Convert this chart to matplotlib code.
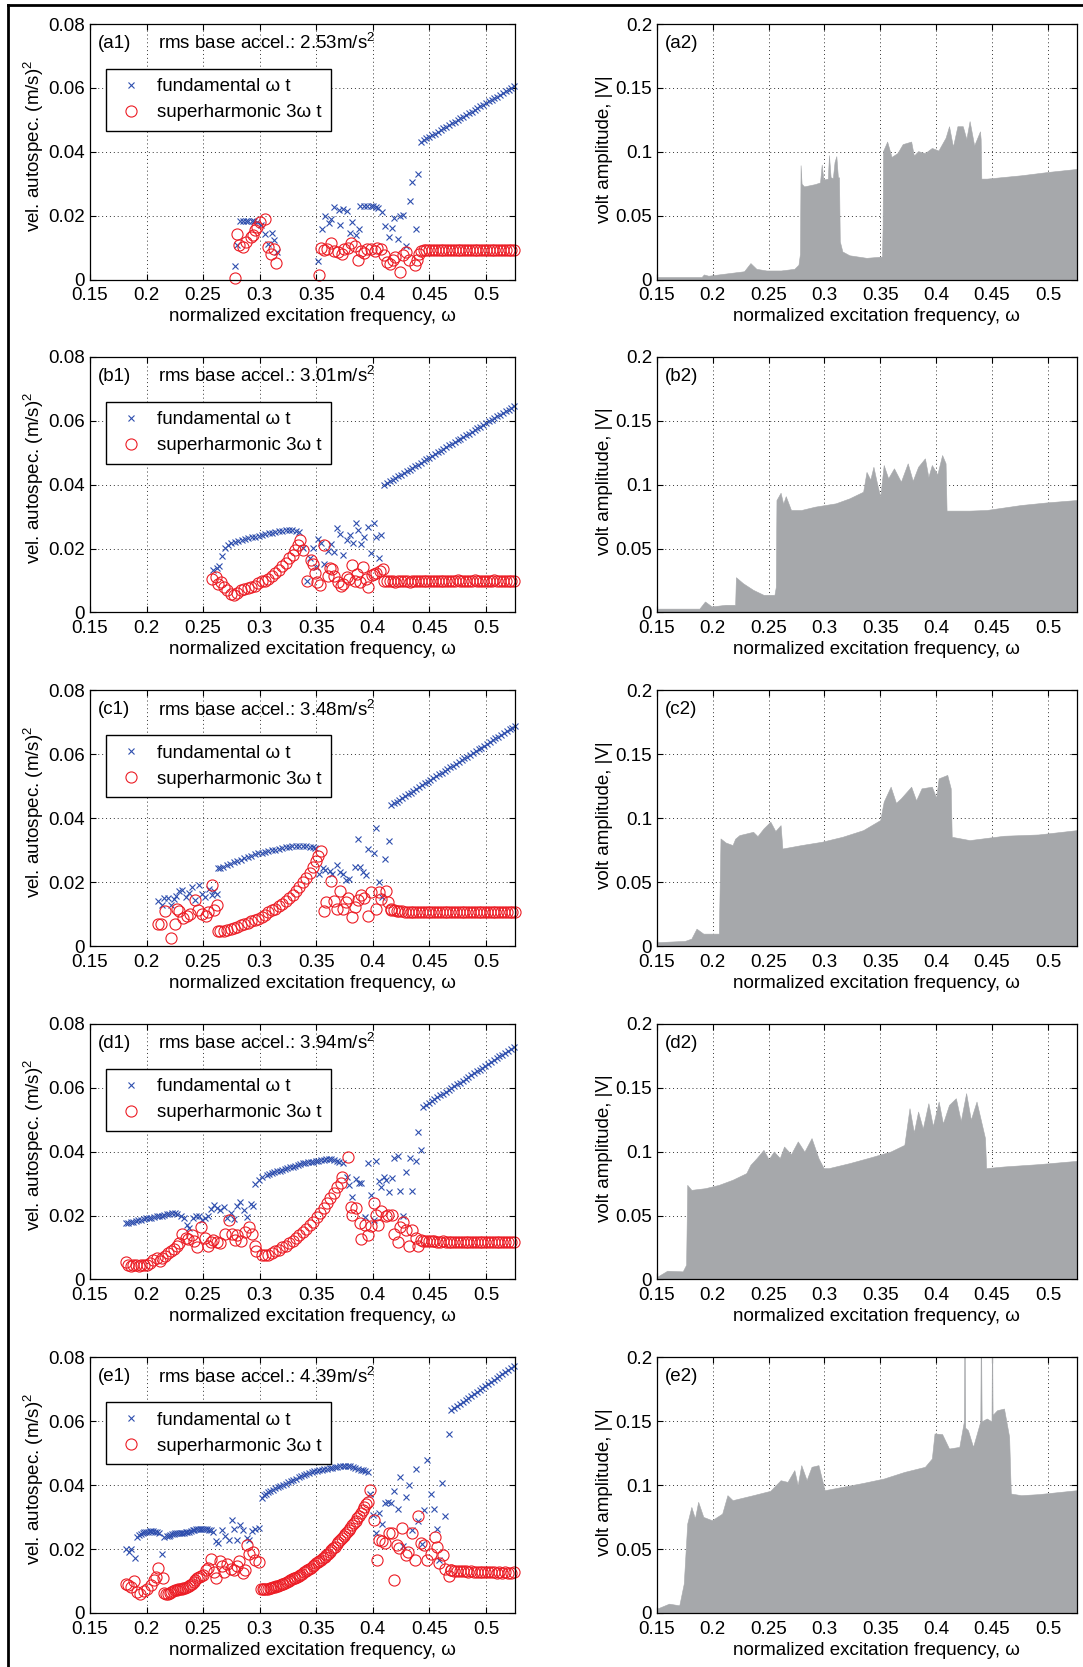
import matplotlib
matplotlib.use("Agg")
import matplotlib.pyplot as plt
from matplotlib.lines import Line2D
from matplotlib.ticker import FuncFormatter

plt.rcParams['font.family'] = ['Liberation Sans', 'DejaVu Sans']
plt.rcParams['mathtext.fontset'] = 'custom'
plt.rcParams['mathtext.rm'] = 'Liberation Sans'
plt.rcParams['mathtext.it'] = 'Liberation Sans:italic'

# --- texts ---
tags_left = ["(a1)", "(b1)", "(c1)", "(d1)", "(e1)"]
tags_right = ["(a2)", "(b2)", "(c2)", "(d2)", "(e2)"]
rms_accel = ["2.53", "3.01", "3.48", "3.94", "4.39"]

freq_ticks = [0.15, 0.2, 0.25, 0.3, 0.35, 0.4, 0.45, 0.5]
vel_ticks = [0, 0.02, 0.04, 0.06, 0.08]
volt_ticks = [0, 0.05, 0.1, 0.15, 0.2]

# --- row a: scattered part (freq, value) ---
fund_a_lo = [(0.278, 0.0043), (0.2797, 0.0108), (0.283, 0.0184), (0.285, 0.0182), (0.288, 0.0184),
             (0.290, 0.0182), (0.293, 0.0184), (0.295, 0.0182), (0.298, 0.0180), (0.301, 0.0170),
             (0.305, 0.0144), (0.307, 0.0110), (0.311, 0.0147), (0.3124, 0.0125), (0.3155, 0.0087),
             (0.352, 0.0058), (0.3547, 0.0159), (0.3574, 0.0198), (0.361, 0.0178), (0.3635, 0.0191),
             (0.366, 0.0226), (0.370, 0.0217), (0.371, 0.0172), (0.374, 0.0221), (0.377, 0.0214),
             (0.3797, 0.0147), (0.382, 0.0179), (0.385, 0.0139), (0.3876, 0.0159), (0.389, 0.0229),
             (0.392, 0.0230), (0.395, 0.0230), (0.398, 0.0230), (0.400, 0.0229), (0.403, 0.0227),
             (0.405, 0.0223), (0.408, 0.0213), (0.4105, 0.0169), (0.4144, 0.0134), (0.4168, 0.0162),
             (0.419, 0.0194), (0.422, 0.0128), (0.4245, 0.0198), (0.4266, 0.0202), (0.429, 0.0104),
             (0.4327, 0.0246), (0.435, 0.0305), (0.438, 0.0159), (0.440, 0.0331)]
sup_a_lo = [(0.278, 0.0005), (0.2804, 0.0144), (0.2819, 0.0108), (0.2849, 0.0102), (0.288, 0.0118),
            (0.292, 0.0132), (0.294, 0.0138), (0.296, 0.0154), (0.298, 0.0165), (0.300, 0.0180),
            (0.3047, 0.0189), (0.307, 0.0102), (0.3096, 0.0081), (0.313, 0.0097), (0.3148, 0.0052),
            (0.3525, 0.0013), (0.3544, 0.0099), (0.357, 0.0092), (0.3596, 0.0097), (0.363, 0.0115),
            (0.366, 0.0090), (0.369, 0.0086), (0.3727, 0.0079), (0.375, 0.0095), (0.378, 0.0100),
            (0.381, 0.0116), (0.384, 0.0105), (0.387, 0.0060), (0.390, 0.0090), (0.392, 0.0082),
            (0.395, 0.0095), (0.398, 0.0095), (0.4016, 0.0090), (0.404, 0.0100), (0.407, 0.0095),
            (0.410, 0.0076), (0.4128, 0.0055), (0.415, 0.0050), (0.4175, 0.0060), (0.420, 0.0070),
            (0.424, 0.0024), (0.427, 0.0076), (0.429, 0.0085), (0.432, 0.0062), (0.437, 0.0045),
            (0.439, 0.0060), (0.441, 0.0080)]
# row a: upper branch (shared frequencies)
w_a_hi = [0.4425, 0.445, 0.4475, 0.45, 0.4525, 0.455, 0.4575, 0.46, 0.4625, 0.465,
          0.4675, 0.47, 0.4725, 0.475, 0.4775, 0.48, 0.4825, 0.485, 0.4875, 0.49,
          0.4925, 0.495, 0.4975, 0.5, 0.5025, 0.505, 0.5075, 0.51, 0.5125, 0.515,
          0.5175, 0.52, 0.5225, 0.525]
fund_a_hi = [0.0431, 0.0436, 0.0442, 0.0447, 0.0452, 0.0457, 0.0463, 0.0468, 0.0473, 0.0478,
             0.0484, 0.0489, 0.0494, 0.0500, 0.0505, 0.0510, 0.0515, 0.0521, 0.0526, 0.0531,
             0.0536, 0.0542, 0.0547, 0.0552, 0.0558, 0.0563, 0.0568, 0.0573, 0.0579, 0.0584,
             0.0589, 0.0594, 0.0600, 0.0605]
sup_a_hi = [0.0090, 0.0092, 0.0092, 0.0093, 0.0092, 0.0092, 0.0092, 0.0093, 0.0093, 0.0092,
            0.0093, 0.0094, 0.0093, 0.0093, 0.0094, 0.0093, 0.0093, 0.0093, 0.0094, 0.0093,
            0.0093, 0.0093, 0.0093, 0.0093, 0.0093, 0.0093, 0.0093, 0.0093, 0.0093, 0.0093,
            0.0093, 0.0093, 0.0093, 0.0093]

# --- row b ---
fund_b_lo = [(0.259, 0.0133), (0.262, 0.0139), (0.264, 0.0145), (0.2666, 0.0178), (0.2697, 0.0201),
             (0.272, 0.0212), (0.275, 0.0218), (0.278, 0.0222), (0.281, 0.0225), (0.284, 0.0227),
             (0.287, 0.0230), (0.290, 0.0232), (0.293, 0.0235), (0.296, 0.0237), (0.299, 0.0240),
             (0.302, 0.0243), (0.305, 0.0245), (0.308, 0.0248), (0.311, 0.0250), (0.314, 0.0253),
             (0.317, 0.0255), (0.320, 0.0256), (0.323, 0.0257), (0.326, 0.0258), (0.329, 0.0258),
             (0.332, 0.0256), (0.335, 0.0253),
             (0.3382, 0.0201), (0.3422, 0.0097), (0.3443, 0.0170), (0.3474, 0.0201), (0.3498, 0.0141),
             (0.352, 0.0229), (0.354, 0.0217), (0.3565, 0.0152), (0.360, 0.0191), (0.3635, 0.0215),
             (0.3657, 0.0190), (0.3687, 0.0264), (0.3711, 0.0246), (0.3739, 0.0180), (0.3769, 0.0227),
             (0.3797, 0.0243), (0.3824, 0.0217), (0.3848, 0.0281), (0.387, 0.0258), (0.3894, 0.0215),
             (0.3925, 0.0235), (0.3955, 0.0269), (0.3982, 0.0185), (0.4007, 0.0281), (0.4031, 0.0237),
             (0.4052, 0.0170), (0.4077, 0.0243)]
sup_b_lo = [(0.2581, 0.0104), (0.2612, 0.0110), (0.263, 0.0090), (0.266, 0.0095), (0.2682, 0.0081),
            (0.2712, 0.0069), (0.2743, 0.0058), (0.2773, 0.0055), (0.2804, 0.0060), (0.2834, 0.0069),
            (0.2865, 0.0073), (0.2895, 0.0076), (0.2926, 0.0081), (0.2956, 0.0084), (0.2986, 0.0092),
            (0.3017, 0.0097), (0.3047, 0.0100), (0.3078, 0.0105), (0.3108, 0.0113), (0.3139, 0.0123),
            (0.3169, 0.0133), (0.3200, 0.0144), (0.3230, 0.0156), (0.3261, 0.0170), (0.3291, 0.0180),
            (0.3315, 0.0196), (0.3337, 0.0211), (0.3358, 0.0227),
            (0.3382, 0.0196), (0.3422, 0.0097), (0.3452, 0.0165), (0.3474, 0.0152), (0.349, 0.0125),
            (0.351, 0.0095), (0.353, 0.0085), (0.3571, 0.0211), (0.360, 0.0115), (0.362, 0.0139),
            (0.364, 0.0135), (0.366, 0.0113), (0.3693, 0.0094), (0.3718, 0.0083), (0.374, 0.0090),
            (0.377, 0.0110), (0.379, 0.0105), (0.3815, 0.0149), (0.384, 0.0100), (0.386, 0.0120),
            (0.3885, 0.0094), (0.3916, 0.0141), (0.394, 0.0105), (0.3955, 0.0081), (0.3991, 0.0116),
            (0.401, 0.0120), (0.403, 0.0125), (0.406, 0.0130), (0.4089, 0.0135)]
w_b_hi = [0.41, 0.4125, 0.415, 0.4175, 0.42, 0.4225, 0.425, 0.4275, 0.43, 0.4325,
          0.435, 0.4375, 0.44, 0.4425, 0.445, 0.4475, 0.45, 0.4525, 0.455, 0.4575,
          0.46, 0.4625, 0.465, 0.4675, 0.47, 0.4725, 0.475, 0.4775, 0.48, 0.4825,
          0.485, 0.4875, 0.49, 0.4925, 0.495, 0.4975, 0.5, 0.5025, 0.505, 0.5075,
          0.51, 0.5125, 0.515, 0.5175, 0.52, 0.5225, 0.525]
fund_b_hi = [0.0399, 0.0404, 0.0410, 0.0415, 0.0420, 0.0426, 0.0431, 0.0437, 0.0442, 0.0447,
             0.0453, 0.0458, 0.0463, 0.0469, 0.0474, 0.0480, 0.0485, 0.0490, 0.0496, 0.0501,
             0.0506, 0.0512, 0.0517, 0.0523, 0.0528, 0.0533, 0.0539, 0.0544, 0.0549, 0.0555,
             0.0560, 0.0566, 0.0571, 0.0576, 0.0582, 0.0587, 0.0592, 0.0598, 0.0603, 0.0608,
             0.0614, 0.0619, 0.0625, 0.0630, 0.0635, 0.0641, 0.0646]
sup_b_hi = [0.0098, 0.0097, 0.0097, 0.0097, 0.0096, 0.0097, 0.0097, 0.0097, 0.0097, 0.0096,
            0.0097, 0.0097, 0.0097, 0.0097, 0.0097, 0.0097, 0.0097, 0.0097, 0.0097, 0.0097,
            0.0097, 0.0097, 0.0097, 0.0100, 0.0100, 0.0100, 0.0101, 0.0100, 0.0100, 0.0100,
            0.0100, 0.0100, 0.0101, 0.0100, 0.0100, 0.0100, 0.0100, 0.0100, 0.0100, 0.0101,
            0.0100, 0.0100, 0.0100, 0.0100, 0.0100, 0.0100, 0.0100]

# --- row c ---
fund_c_lo = [(0.2103, 0.0140), (0.2134, 0.0128), (0.2158, 0.0149), (0.2188, 0.0149), (0.2213, 0.0128),
             (0.224, 0.0146), (0.2261, 0.0157), (0.2286, 0.0172), (0.2316, 0.0175), (0.2347, 0.0154),
             (0.2377, 0.0167), (0.2402, 0.0185), (0.2432, 0.0145), (0.246, 0.0190), (0.2493, 0.0164),
             (0.252, 0.0154), (0.2554, 0.0178), (0.2575, 0.0161), (0.2597, 0.0172), (0.2621, 0.0164),
             (0.2633, 0.0243), (0.2652, 0.0243), (0.268, 0.0248), (0.2712, 0.0253), (0.274, 0.0257),
             (0.2773, 0.0262), (0.280, 0.0265), (0.2834, 0.0269), (0.286, 0.0274), (0.2895, 0.0279),
             (0.2925, 0.0283), (0.2956, 0.0287), (0.2985, 0.0290), (0.3017, 0.0292), (0.3048, 0.0295),
             (0.3078, 0.0297), (0.311, 0.0300), (0.3139, 0.0302), (0.317, 0.0305), (0.320, 0.0308),
             (0.323, 0.0310), (0.3261, 0.0311), (0.329, 0.0312), (0.3322, 0.0313), (0.335, 0.0313),
             (0.3382, 0.0313), (0.341, 0.0312), (0.3443, 0.0311), (0.347, 0.0309), (0.3489, 0.0308),
             (0.3529, 0.0227), (0.3556, 0.0243), (0.358, 0.0237), (0.362, 0.0235), (0.364, 0.0227),
             (0.368, 0.0255), (0.371, 0.0232), (0.3733, 0.0227), (0.3763, 0.0206), (0.3787, 0.0211),
             (0.3839, 0.0248), (0.387, 0.0334), (0.3885, 0.0248), (0.3916, 0.0232), (0.394, 0.0222),
             (0.3955, 0.0305), (0.4007, 0.0290), (0.4031, 0.0370), (0.4052, 0.0199), (0.4083, 0.0154),
             (0.4107, 0.0272), (0.4144, 0.0330)]
sup_c_lo = [(0.2097, 0.0070), (0.2127, 0.0068), (0.2164, 0.0109), (0.2219, 0.0026), (0.2249, 0.0069),
            (0.2265, 0.0115), (0.2286, 0.0109), (0.2325, 0.0088), (0.2362, 0.0094), (0.2386, 0.0101),
            (0.2432, 0.0143), (0.2453, 0.0112), (0.2493, 0.0099), (0.2523, 0.0094), (0.2545, 0.0107),
            (0.2575, 0.0190), (0.2597, 0.0114), (0.2621, 0.0128),
            (0.2633, 0.0046), (0.2651, 0.0046), (0.2682, 0.0048), (0.2712, 0.0049), (0.2743, 0.0052),
            (0.2773, 0.0056), (0.2804, 0.0061), (0.2834, 0.0065), (0.2865, 0.0069), (0.2895, 0.0073),
            (0.2926, 0.0077), (0.2956, 0.0081), (0.2986, 0.0086), (0.3017, 0.0091), (0.3047, 0.0098),
            (0.3078, 0.0105), (0.3108, 0.0112), (0.3139, 0.0117), (0.3169, 0.0124), (0.3200, 0.0131),
            (0.3230, 0.0140), (0.3261, 0.0149), (0.3291, 0.0159), (0.3322, 0.0173), (0.3352, 0.0185),
            (0.3382, 0.0199), (0.3413, 0.0213), (0.3443, 0.0229), (0.3474, 0.0248), (0.3498, 0.0266),
            (0.3519, 0.0281), (0.3541, 0.0298),
            (0.3565, 0.0109), (0.3589, 0.0138), (0.3632, 0.0203), (0.3657, 0.0140), (0.3681, 0.0117),
            (0.3708, 0.0172), (0.3733, 0.0115), (0.3763, 0.0138), (0.3784, 0.0151), (0.3815, 0.0091),
            (0.3839, 0.0122), (0.3870, 0.0143), (0.3900, 0.0159), (0.3925, 0.0149), (0.3955, 0.0093),
            (0.3986, 0.0169), (0.4031, 0.0115), (0.4052, 0.0169), (0.4077, 0.0146), (0.4120, 0.0172),
            (0.4138, 0.0138), (0.4159, 0.0117)]
w_c_hi = [0.416, 0.4185, 0.421, 0.4235, 0.426, 0.4285, 0.431, 0.4335, 0.436, 0.4385,
          0.441, 0.4435, 0.446, 0.4485, 0.451, 0.4535, 0.456, 0.4585, 0.461, 0.4635,
          0.466, 0.4685, 0.471, 0.4735, 0.476, 0.4785, 0.481, 0.4835, 0.486, 0.4885,
          0.491, 0.4935, 0.496, 0.4985, 0.501, 0.5035, 0.506, 0.5085, 0.511, 0.5135,
          0.516, 0.5185, 0.521, 0.5235, 0.526]
fund_c_hi = [0.0441, 0.0447, 0.0452, 0.0458, 0.0464, 0.0469, 0.0475, 0.0480, 0.0486, 0.0492,
             0.0497, 0.0503, 0.0509, 0.0514, 0.0520, 0.0526, 0.0531, 0.0537, 0.0543, 0.0548,
             0.0554, 0.0559, 0.0565, 0.0571, 0.0576, 0.0582, 0.0588, 0.0593, 0.0599, 0.0605,
             0.0610, 0.0616, 0.0621, 0.0627, 0.0633, 0.0638, 0.0644, 0.0650, 0.0655, 0.0661,
             0.0667, 0.0672, 0.0678, 0.0684, 0.0689]
sup_c_hi = [0.0114, 0.0112, 0.0111, 0.0110, 0.0109, 0.0108, 0.0108, 0.0108, 0.0108, 0.0108,
            0.0108, 0.0108, 0.0108, 0.0108, 0.0108, 0.0108, 0.0108, 0.0108, 0.0108, 0.0108,
            0.0108, 0.0108, 0.0108, 0.0108, 0.0108, 0.0108, 0.0108, 0.0108, 0.0108, 0.0108,
            0.0108, 0.0108, 0.0108, 0.0108, 0.0108, 0.0108, 0.0108, 0.0108, 0.0108, 0.0108,
            0.0108, 0.0108, 0.0108, 0.0108, 0.0108]

# --- row d ---
fund_d_lo = [(0.1814, 0.0176), (0.1837, 0.0177), (0.1859, 0.0179), (0.1882, 0.0181), (0.1905, 0.0184),
             (0.1928, 0.0185), (0.1951, 0.0187), (0.1974, 0.0189), (0.1996, 0.0192), (0.2019, 0.0191),
             (0.2042, 0.0192), (0.2065, 0.0194), (0.2088, 0.0197), (0.2111, 0.0198), (0.2134, 0.0200),
             (0.2157, 0.0202), (0.2179, 0.0204), (0.2202, 0.0206), (0.2225, 0.0208), (0.2248, 0.0207),
             (0.2271, 0.0205), (0.2301, 0.0200),
             (0.2332, 0.0192), (0.2362, 0.0171), (0.2377, 0.0160), (0.2408, 0.0192), (0.2438, 0.0200),
             (0.2462, 0.0198), (0.2493, 0.0187), (0.2514, 0.0192), (0.2545, 0.0199), (0.2566, 0.0221),
             (0.2597, 0.0234), (0.2621, 0.0223), (0.2651, 0.0218), (0.2682, 0.0228), (0.2712, 0.0192),
             (0.2743, 0.0208), (0.2773, 0.0190), (0.2804, 0.0230), (0.2828, 0.0242), (0.2859, 0.0218),
             (0.2889, 0.0194), (0.2919, 0.0236), (0.2941, 0.0230),
             (0.2962, 0.0299), (0.2993, 0.0312), (0.3023, 0.0322), (0.3063, 0.0327), (0.3085, 0.0330),
             (0.3108, 0.0333), (0.3131, 0.0335), (0.3154, 0.0338), (0.3177, 0.0340), (0.3200, 0.0343),
             (0.3223, 0.0346), (0.3245, 0.0348), (0.3268, 0.0351), (0.3291, 0.0353), (0.3314, 0.0356),
             (0.3337, 0.0359), (0.3360, 0.0361), (0.3382, 0.0363), (0.3405, 0.0365), (0.3428, 0.0367),
             (0.3451, 0.0368), (0.3474, 0.0369), (0.3497, 0.0371), (0.3519, 0.0372), (0.3542, 0.0373),
             (0.3565, 0.0374), (0.3588, 0.0376), (0.3611, 0.0377), (0.3634, 0.0376), (0.3657, 0.0374),
             (0.3680, 0.0372), (0.3702, 0.0369), (0.3733, 0.0364),
             (0.3772, 0.0322), (0.3794, 0.0296), (0.3815, 0.0257), (0.3848, 0.0314), (0.3876, 0.0303),
             (0.3900, 0.0303), (0.3931, 0.0194), (0.3955, 0.0366), (0.3986, 0.0265), (0.4007, 0.0187),
             (0.4031, 0.0372), (0.4052, 0.0307), (0.4074, 0.0288), (0.4098, 0.0322), (0.4120, 0.0312),
             (0.4144, 0.0273), (0.4168, 0.0317), (0.4190, 0.0380), (0.4220, 0.0385), (0.4245, 0.0277),
             (0.4266, 0.0200), (0.4296, 0.0335), (0.4327, 0.0380), (0.4351, 0.0277), (0.4381, 0.0371),
             (0.4403, 0.0461), (0.4424, 0.0406)]
sup_d_lo = [(0.1814, 0.0053), (0.1835, 0.0044), (0.1859, 0.0043), (0.1880, 0.0044), (0.1905, 0.0044),
            (0.1930, 0.0043), (0.1950, 0.0044), (0.1975, 0.0045), (0.2000, 0.0046), (0.2030, 0.0052),
            (0.2060, 0.0062), (0.2090, 0.0067), (0.2120, 0.0058), (0.2140, 0.0066), (0.2165, 0.0074),
            (0.2190, 0.0082), (0.2215, 0.0090), (0.2240, 0.0096), (0.2265, 0.0104), (0.2290, 0.0113),
            (0.2316, 0.0142), (0.2347, 0.0129), (0.2370, 0.0125), (0.2402, 0.0140), (0.2423, 0.0119),
            (0.2444, 0.0100), (0.2484, 0.0163), (0.2514, 0.0129), (0.2545, 0.0106), (0.2566, 0.0117),
            (0.2590, 0.0124), (0.2621, 0.0117), (0.2651, 0.0114), (0.2697, 0.0142), (0.2728, 0.0187),
            (0.2758, 0.0142), (0.2779, 0.0124), (0.2804, 0.0140), (0.2834, 0.0119), (0.2871, 0.0147),
            (0.2910, 0.0163), (0.2932, 0.0142), (0.2956, 0.0106), (0.2971, 0.0088),
            (0.3017, 0.0077), (0.3047, 0.0075), (0.3078, 0.0077), (0.3108, 0.0082), (0.3139, 0.0088),
            (0.3169, 0.0093), (0.3200, 0.0100), (0.3230, 0.0106), (0.3261, 0.0114), (0.3291, 0.0121),
            (0.3322, 0.0129), (0.3352, 0.0138), (0.3382, 0.0147), (0.3413, 0.0157), (0.3443, 0.0169),
            (0.3474, 0.0181), (0.3504, 0.0194), (0.3534, 0.0208), (0.3565, 0.0223), (0.3595, 0.0239),
            (0.3626, 0.0254), (0.3657, 0.0270), (0.3687, 0.0288), (0.3717, 0.0301), (0.3727, 0.0322),
            (0.3778, 0.0382), (0.3809, 0.0228), (0.3815, 0.0202), (0.3848, 0.0223), (0.3885, 0.0176),
            (0.3894, 0.0127), (0.3931, 0.0171), (0.3961, 0.0140), (0.3986, 0.0166), (0.4007, 0.0239),
            (0.4031, 0.0202), (0.4047, 0.0171), (0.4077, 0.0213), (0.4114, 0.0200), (0.4138, 0.0202),
            (0.4168, 0.0202), (0.4184, 0.0142), (0.4220, 0.0117), (0.4241, 0.0163), (0.4266, 0.0181),
            (0.4290, 0.0155), (0.4320, 0.0106), (0.4351, 0.0155), (0.4381, 0.0129), (0.4403, 0.0106),
            (0.4424, 0.0124)]
w_d_hi = [0.4445, 0.447, 0.4495, 0.452, 0.4545, 0.457, 0.4595, 0.462, 0.4645, 0.467,
          0.4695, 0.472, 0.4745, 0.477, 0.4795, 0.482, 0.4845, 0.487, 0.4895, 0.492,
          0.4945, 0.497, 0.4995, 0.502, 0.5045, 0.507, 0.5095, 0.512, 0.5145, 0.517,
          0.5195, 0.522, 0.5245]
fund_d_hi = [0.0541, 0.0547, 0.0553, 0.0558, 0.0564, 0.0570, 0.0576, 0.0582, 0.0587, 0.0593,
             0.0599, 0.0605, 0.0611, 0.0616, 0.0622, 0.0628, 0.0634, 0.0640, 0.0645, 0.0651,
             0.0657, 0.0663, 0.0669, 0.0674, 0.0680, 0.0686, 0.0692, 0.0698, 0.0703, 0.0709,
             0.0715, 0.0721, 0.0727]
sup_d_hi = [0.0121, 0.0120, 0.0119, 0.0119, 0.0119, 0.0118, 0.0118, 0.0119, 0.0118, 0.0118,
            0.0118, 0.0118, 0.0118, 0.0118, 0.0118, 0.0118, 0.0118, 0.0118, 0.0118, 0.0118,
            0.0118, 0.0118, 0.0118, 0.0118, 0.0118, 0.0118, 0.0118, 0.0118, 0.0118, 0.0118,
            0.0118, 0.0118, 0.0118]

# --- row e ---
fund_e_lo = [(0.1814, 0.0199), (0.1844, 0.0191), (0.1866, 0.0199), (0.1896, 0.0172), (0.1914, 0.0238),
             (0.1936, 0.0245), (0.1951, 0.0248), (0.1966, 0.0251), (0.1981, 0.0253), (0.1996, 0.0254),
             (0.2012, 0.0255), (0.2027, 0.0256), (0.2042, 0.0256), (0.2057, 0.0256), (0.2072, 0.0255),
             (0.2088, 0.0254), (0.2109, 0.0251), (0.2140, 0.0184), (0.2158, 0.0238), (0.2177, 0.0240),
             (0.2195, 0.0241), (0.2210, 0.0244), (0.2225, 0.0246), (0.2240, 0.0248), (0.2255, 0.0249),
             (0.2270, 0.0249), (0.2286, 0.0249), (0.2301, 0.0250), (0.2316, 0.0251), (0.2331, 0.0251),
             (0.2347, 0.0252), (0.2362, 0.0253), (0.2377, 0.0254), (0.2392, 0.0256), (0.2408, 0.0259),
             (0.2423, 0.0261), (0.2438, 0.0262), (0.2453, 0.0262), (0.2469, 0.0262), (0.2484, 0.0263),
             (0.2499, 0.0264), (0.2515, 0.0263), (0.2530, 0.0262), (0.2548, 0.0260), (0.2566, 0.0259),
             (0.2590, 0.0255), (0.2615, 0.0226), (0.2636, 0.0219), (0.2666, 0.0259), (0.2697, 0.0241),
             (0.2728, 0.0230), (0.2752, 0.0290), (0.2773, 0.0264), (0.2804, 0.0230), (0.2828, 0.0277),
             (0.2856, 0.0261), (0.2889, 0.0235), (0.2910, 0.0228), (0.2935, 0.0256), (0.2962, 0.0262),
             (0.2993, 0.0267),
             (0.3017, 0.0361), (0.3035, 0.0368), (0.3053, 0.0374), (0.3073, 0.0378), (0.3093, 0.0382),
             (0.3116, 0.0386), (0.3139, 0.0390), (0.3162, 0.0394), (0.3184, 0.0398), (0.3207, 0.0401),
             (0.3230, 0.0405), (0.3253, 0.0410), (0.3276, 0.0414), (0.3299, 0.0417), (0.3322, 0.0421),
             (0.3345, 0.0425), (0.3367, 0.0428), (0.3390, 0.0431), (0.3413, 0.0434), (0.3436, 0.0437),
             (0.3459, 0.0440), (0.3482, 0.0443), (0.3504, 0.0445), (0.3527, 0.0447), (0.3550, 0.0449),
             (0.3573, 0.0451), (0.3596, 0.0452), (0.3618, 0.0453), (0.3641, 0.0454), (0.3664, 0.0456),
             (0.3687, 0.0457), (0.3710, 0.0459), (0.3733, 0.0460), (0.3755, 0.0460), (0.3778, 0.0460),
             (0.3801, 0.0459), (0.3824, 0.0457), (0.3847, 0.0455), (0.3870, 0.0452), (0.3892, 0.0449),
             (0.3915, 0.0447), (0.3935, 0.0443), (0.3955, 0.0440),
             (0.3976, 0.0374), (0.4001, 0.0306), (0.4031, 0.0249), (0.4052, 0.0313), (0.4083, 0.0280),
             (0.4107, 0.0343), (0.4138, 0.0348), (0.4159, 0.0343), (0.4190, 0.0382), (0.4220, 0.0327),
             (0.4241, 0.0426), (0.4266, 0.0209), (0.4290, 0.0363), (0.4320, 0.0400), (0.4351, 0.0261),
             (0.4381, 0.0452), (0.4403, 0.0287), (0.4433, 0.0217), (0.4455, 0.0322), (0.4479, 0.0478),
             (0.4515, 0.0374), (0.4540, 0.0324), (0.4564, 0.0262), (0.4586, 0.0167), (0.4616, 0.0408),
             (0.4637, 0.0303), (0.4677, 0.0559)]
sup_e_lo = [(0.1814, 0.0090), (0.1835, 0.0087), (0.1859, 0.0081), (0.1890, 0.0099), (0.1914, 0.0066),
            (0.1945, 0.0058), (0.1975, 0.0069), (0.2006, 0.0074), (0.2036, 0.0087), (0.2067, 0.0102),
            (0.2080, 0.0113), (0.2103, 0.0142), (0.2149, 0.0111),
            (0.2158, 0.0063), (0.2173, 0.0060), (0.2188, 0.0058), (0.2204, 0.0062), (0.2219, 0.0066),
            (0.2234, 0.0069), (0.2249, 0.0071), (0.2265, 0.0073), (0.2280, 0.0074), (0.2295, 0.0075),
            (0.2310, 0.0076), (0.2326, 0.0078), (0.2341, 0.0079), (0.2356, 0.0081), (0.2371, 0.0084),
            (0.2387, 0.0088), (0.2402, 0.0092), (0.2417, 0.0098), (0.2432, 0.0104), (0.2448, 0.0109),
            (0.2463, 0.0113), (0.2478, 0.0116),
            (0.2499, 0.0118), (0.2523, 0.0136), (0.2545, 0.0141), (0.2566, 0.0168), (0.2597, 0.0128),
            (0.2615, 0.0111), (0.2645, 0.0163), (0.2666, 0.0146), (0.2688, 0.0128), (0.2712, 0.0152),
            (0.2743, 0.0139), (0.2773, 0.0134), (0.2798, 0.0146), (0.2819, 0.0163), (0.2849, 0.0125),
            (0.2871, 0.0136), (0.2889, 0.0212), (0.2910, 0.0184), (0.2941, 0.0191), (0.2962, 0.0167),
            (0.2993, 0.0160),
            (0.3011, 0.0074), (0.3026, 0.0074), (0.3041, 0.0074), (0.3057, 0.0075), (0.3072, 0.0076),
            (0.3087, 0.0077), (0.3102, 0.0079), (0.3118, 0.0080), (0.3133, 0.0081), (0.3148, 0.0083),
            (0.3163, 0.0085), (0.3179, 0.0087), (0.3194, 0.0090), (0.3209, 0.0092), (0.3224, 0.0095),
            (0.3240, 0.0097), (0.3255, 0.0100), (0.3270, 0.0102), (0.3285, 0.0105), (0.3300, 0.0108),
            (0.3315, 0.0111), (0.3331, 0.0114), (0.3346, 0.0117), (0.3361, 0.0120), (0.3376, 0.0123),
            (0.3392, 0.0127), (0.3407, 0.0131), (0.3422, 0.0135), (0.3437, 0.0139), (0.3453, 0.0142),
            (0.3468, 0.0146), (0.3483, 0.0150), (0.3498, 0.0155), (0.3514, 0.0159), (0.3529, 0.0163),
            (0.3544, 0.0167), (0.3559, 0.0172), (0.3574, 0.0176), (0.3589, 0.0181), (0.3605, 0.0186),
            (0.3620, 0.0191), (0.3635, 0.0196), (0.3650, 0.0202), (0.3666, 0.0208), (0.3681, 0.0215),
            (0.3696, 0.0221), (0.3711, 0.0228), (0.3727, 0.0234), (0.3742, 0.0240), (0.3757, 0.0247),
            (0.3772, 0.0254), (0.3788, 0.0260), (0.3803, 0.0267), (0.3818, 0.0274), (0.3833, 0.0282),
            (0.3849, 0.0289), (0.3864, 0.0296), (0.3879, 0.0304), (0.3894, 0.0313), (0.3910, 0.0322),
            (0.3925, 0.0332), (0.3940, 0.0340), (0.3955, 0.0348), (0.3976, 0.0386),
            (0.4007, 0.0292), (0.4037, 0.0167), (0.4052, 0.0230), (0.4083, 0.0226), (0.4107, 0.0219),
            (0.4144, 0.0249), (0.4168, 0.0249), (0.4190, 0.0104), (0.4214, 0.0212), (0.4235, 0.0205),
            (0.4260, 0.0266), (0.4290, 0.0181), (0.4311, 0.0191), (0.4351, 0.0251), (0.4372, 0.0165),
            (0.4403, 0.0303), (0.4424, 0.0219), (0.4449, 0.0212), (0.4479, 0.0167), (0.4515, 0.0186),
            (0.4546, 0.0238), (0.4564, 0.0207), (0.4586, 0.0155), (0.4625, 0.0181), (0.4637, 0.0137),
            (0.4677, 0.0115), (0.4692, 0.0134)]
w_e_hi = [0.4695, 0.472, 0.4745, 0.477, 0.4795, 0.482, 0.4845, 0.487, 0.4895, 0.492,
          0.4945, 0.497, 0.4995, 0.502, 0.5045, 0.507, 0.5095, 0.512, 0.5145, 0.517,
          0.5195, 0.522, 0.5245]
fund_e_hi = [0.0637, 0.0643, 0.0649, 0.0655, 0.0662, 0.0668, 0.0674, 0.0680, 0.0686, 0.0692,
             0.0698, 0.0705, 0.0711, 0.0717, 0.0723, 0.0729, 0.0735, 0.0741, 0.0748, 0.0754,
             0.0760, 0.0766, 0.0772]
sup_e_hi = [0.0134, 0.0132, 0.0131, 0.0132, 0.0130, 0.0130, 0.0129, 0.0130, 0.0129, 0.0129,
            0.0128, 0.0128, 0.0127, 0.0128, 0.0127, 0.0127, 0.0126, 0.0127, 0.0126, 0.0127,
            0.0126, 0.0126, 0.0127]

# --- right column: upper envelope of the voltage record (freq, volt) ---
env_a = [(0.150, 0.002), (0.190, 0.002), (0.192, 0.004), (0.196, 0.003), (0.228, 0.0065),
         (0.2337, 0.0129), (0.239, 0.0084), (0.248, 0.0071), (0.261, 0.0071), (0.273, 0.0084),
         (0.2767, 0.0116), (0.2780, 0.020), (0.2786, 0.0895), (0.2795, 0.075), (0.2817, 0.0729),
         (0.2915, 0.0747), (0.2960, 0.0760), (0.2975, 0.090), (0.2990, 0.0782), (0.3030, 0.079),
         (0.3040, 0.0974), (0.3055, 0.080), (0.3075, 0.0795), (0.3090, 0.092), (0.3106, 0.0966),
         (0.3120, 0.080), (0.3130, 0.080), (0.3137, 0.030), (0.3160, 0.022), (0.3223, 0.019),
         (0.3376, 0.017), (0.3515, 0.018), (0.3520, 0.040), (0.3524, 0.1005), (0.3561, 0.108),
         (0.3600, 0.096), (0.3653, 0.099), (0.3700, 0.106), (0.3776, 0.108), (0.3800, 0.097),
         (0.3838, 0.1005), (0.3900, 0.099), (0.3961, 0.103), (0.4020, 0.101), (0.4084, 0.111),
         (0.4115, 0.120), (0.4150, 0.104), (0.4190, 0.120), (0.4238, 0.120), (0.4270, 0.110),
         (0.4299, 0.124), (0.4340, 0.105), (0.4392, 0.116), (0.4398, 0.110), (0.4404, 0.079),
         (0.4453, 0.079), (0.4760, 0.0816), (0.5000, 0.0842), (0.5260, 0.0866)]
env_b = [(0.150, 0.003), (0.188, 0.003), (0.193, 0.0086), (0.199, 0.0047), (0.2115, 0.006),
         (0.2200, 0.006), (0.2207, 0.0276), (0.2270, 0.0229), (0.2361, 0.0177), (0.2454, 0.0138),
         (0.2552, 0.0138), (0.2564, 0.020), (0.2570, 0.088), (0.2607, 0.0937), (0.2630, 0.085),
         (0.2653, 0.091), (0.2700, 0.0802), (0.2792, 0.0802), (0.2915, 0.0828), (0.3100, 0.0854),
         (0.3223, 0.0893), (0.3346, 0.0945), (0.3376, 0.110), (0.3410, 0.104), (0.3438, 0.114),
         (0.3470, 0.101), (0.3499, 0.0906), (0.3530, 0.1154), (0.3570, 0.105), (0.3622, 0.1128),
         (0.3684, 0.1023), (0.3745, 0.1167), (0.3790, 0.103), (0.3838, 0.114), (0.3899, 0.1206),
         (0.3930, 0.106), (0.3961, 0.1154), (0.4010, 0.108), (0.4053, 0.1232), (0.4084, 0.1167),
         (0.4093, 0.0797), (0.4299, 0.0797), (0.4453, 0.0802), (0.4760, 0.0841), (0.5000, 0.0862),
         (0.5260, 0.088)]
env_c = [(0.150, 0.003), (0.1750, 0.004), (0.1808, 0.0058), (0.1854, 0.0136), (0.1915, 0.0097),
         (0.2054, 0.0097), (0.2069, 0.0842), (0.2115, 0.081), (0.2177, 0.079), (0.2200, 0.084),
         (0.2238, 0.0868), (0.2300, 0.0881), (0.2361, 0.0894), (0.2400, 0.086), (0.2454, 0.092),
         (0.2515, 0.0973), (0.2560, 0.090), (0.2607, 0.0946), (0.2623, 0.0763), (0.2792, 0.079),
         (0.2976, 0.0816), (0.3161, 0.0855), (0.3346, 0.0907), (0.3499, 0.0986), (0.3530, 0.113),
         (0.3592, 0.1247), (0.3640, 0.112), (0.3684, 0.1156), (0.3776, 0.1247), (0.3820, 0.114),
         (0.3869, 0.1234), (0.3961, 0.1247), (0.4000, 0.116), (0.4022, 0.1312), (0.4099, 0.1339),
         (0.4130, 0.1234), (0.4139, 0.0855), (0.4299, 0.0829), (0.4607, 0.0863), (0.4914, 0.0873),
         (0.5260, 0.0907)]
env_d = [(0.150, 0.002), (0.1592, 0.0068), (0.1731, 0.0063), (0.1761, 0.0115), (0.1771, 0.074),
         (0.1808, 0.0701), (0.1931, 0.0714), (0.2054, 0.074), (0.2177, 0.078), (0.2300, 0.0832),
         (0.2337, 0.0897), (0.2392, 0.0949), (0.2454, 0.1014), (0.2500, 0.094), (0.2546, 0.1001),
         (0.2600, 0.095), (0.2638, 0.104), (0.2700, 0.098), (0.2761, 0.108), (0.2820, 0.100),
         (0.2884, 0.1106), (0.2946, 0.0949), (0.2992, 0.0871), (0.3038, 0.0871), (0.3223, 0.091),
         (0.3407, 0.0954), (0.3592, 0.1001), (0.3715, 0.1053), (0.3761, 0.134), (0.3800, 0.115),
         (0.3838, 0.1314), (0.3880, 0.118), (0.3930, 0.1379), (0.3970, 0.120), (0.4022, 0.1392),
         (0.4060, 0.122), (0.4115, 0.1366), (0.4176, 0.1418), (0.4220, 0.124), (0.4268, 0.1458),
         (0.4310, 0.125), (0.4361, 0.1392), (0.4437, 0.1106), (0.4447, 0.0871), (0.4607, 0.0884),
         (0.4914, 0.0902), (0.5260, 0.0928)]
env_e = [(0.150, 0.0034), (0.1608, 0.0073), (0.1700, 0.006), (0.1740, 0.023), (0.1771, 0.070),
         (0.1808, 0.083), (0.1840, 0.074), (0.1869, 0.087), (0.1915, 0.0752), (0.1992, 0.0726),
         (0.2084, 0.0778), (0.2131, 0.0922), (0.2177, 0.0883), (0.2361, 0.0922), (0.2515, 0.0956),
         (0.2607, 0.1039), (0.2669, 0.1026), (0.2730, 0.1118), (0.2760, 0.100), (0.2792, 0.1157),
         (0.2840, 0.104), (0.2884, 0.1144), (0.2946, 0.1157), (0.3001, 0.0961), (0.3161, 0.0987),
         (0.3346, 0.1018), (0.3530, 0.1052), (0.3715, 0.1104), (0.3899, 0.1144), (0.3961, 0.1209),
         (0.3985, 0.1405), (0.4053, 0.140), (0.4115, 0.1287), (0.4207, 0.130), (0.4248, 0.150),
         (0.4251, 0.200), (0.4256, 0.200), (0.4260, 0.145), (0.4284, 0.1431), (0.4330, 0.130),
         (0.4395, 0.150), (0.4398, 0.200), (0.4403, 0.200), (0.4407, 0.150), (0.4453, 0.1522),
         (0.4495, 0.150), (0.4498, 0.200), (0.4502, 0.200), (0.4505, 0.155), (0.4545, 0.1587),
         (0.4607, 0.160), (0.4653, 0.1379), (0.4668, 0.0935), (0.4760, 0.0922), (0.4914, 0.093),
         (0.5260, 0.0961)]

fund_lo = [fund_a_lo, fund_b_lo, fund_c_lo, fund_d_lo, fund_e_lo]
sup_lo = [sup_a_lo, sup_b_lo, sup_c_lo, sup_d_lo, sup_e_lo]
w_hi = [w_a_hi, w_b_hi, w_c_hi, w_d_hi, w_e_hi]
fund_hi = [fund_a_hi, fund_b_hi, fund_c_hi, fund_d_hi, fund_e_hi]
sup_hi = [sup_a_hi, sup_b_hi, sup_c_hi, sup_d_hi, sup_e_hi]
envs = [env_a, env_b, env_c, env_d, env_e]

BLUE = '#2f4fae'
RED = '#ec1c24'
GREY = '#a6a8ab'
FS = 13.5

fig = plt.figure(figsize=(10.83, 16.67), dpi=100)
row_bottoms = [0.8323, 0.6326, 0.4325, 0.2325, 0.0324]
h = 0.1533
fmt = FuncFormatter(lambda v, p: '%g' % v)


def style(ax, yticks, ymax):
    ax.set_xlim(0.15, 0.526)
    ax.set_ylim(0, ymax)
    ax.set_xticks(freq_ticks)
    ax.set_yticks(yticks)
    ax.xaxis.set_major_formatter(fmt)
    ax.yaxis.set_major_formatter(fmt)
    ax.tick_params(direction='in', top=True, right=True, length=4, width=0.8,
                   labelsize=FS)
    ax.tick_params(axis='x', pad=5.5)
    ax.tick_params(axis='y', pad=3.5)
    ax.grid(True, color='#333333', linewidth=0.7, linestyle=(0, (1, 3)))
    ax.set_axisbelow(True)
    for s in ax.spines.values():
        s.set_linewidth(0.9)
    ax.set_xlabel('normalized excitation frequency, ω', fontsize=FS, labelpad=3)
    # MATLAB puts the x label a little right of centre
    ax.xaxis.label.set_x(0.522)


for i in range(5):
    # left: velocity autospectrum
    ax = fig.add_axes([0.0831, row_bottoms[i], 0.3927, h])
    fx, fy = zip(*fund_lo[i])
    sx, sy = zip(*sup_lo[i])
    ax.plot(list(fx) + w_hi[i], list(fy) + fund_hi[i], ls='none', marker='x', ms=4,
            mew=0.8, color=BLUE, label='fundamental ω t', clip_on=False)
    ax.plot(list(sx) + w_hi[i], list(sy) + sup_hi[i], ls='none', marker='o', ms=8,
            mfc='none', mec=RED, mew=0.8, label='superharmonic 3ω t', clip_on=False)
    style(ax, vel_ticks, 0.08)
    ax.set_ylabel('vel. autospec. (m/s)$^2$', fontsize=FS, labelpad=2)
    ax.yaxis.label.set_y(0.525)
    ax.text(0.018, 0.924, tags_left[i], transform=ax.transAxes, va='center', fontsize=FS)
    ax.text(0.159, 0.924, 'rms base accel.: ' + rms_accel[i] + 'm/s$^2$',
            transform=ax.transAxes, va='center', fontsize=FS)
    leg = ax.legend(loc='upper left', bbox_to_anchor=(0.037, 0.824), borderaxespad=0,
                    fancybox=False, edgecolor='k', framealpha=1, fontsize=FS,
                    handlelength=1.7, handletextpad=0.55, borderpad=0.5, labelspacing=0.47)
    leg.get_frame().set_linewidth(1.0)

    # right: voltage amplitude
    ax2 = fig.add_axes([0.6066, row_bottoms[i], 0.3878, h])
    ex, ey = zip(*envs[i])
    ax2.fill_between(ex, 0, ey, color=GREY, linewidth=0.4, edgecolor=GREY)
    style(ax2, volt_ticks, 0.2)
    ax2.set_ylabel('volt amplitude, |V|', fontsize=FS, labelpad=2)
    ax2.yaxis.label.set_y(0.512)
    ax2.text(0.018, 0.924, tags_right[i], transform=ax2.transAxes, va='center', fontsize=FS)

# page frame lines
x0 = 7.6 / 1083
y0 = 1 - 5.3 / 1667
fig.add_artist(Line2D([x0, 1], [y0, y0], transform=fig.transFigure, color='k', lw=2))
fig.add_artist(Line2D([x0, x0], [0, y0], transform=fig.transFigure, color='k', lw=2))

fig.savefig('out.png', dpi=100)
